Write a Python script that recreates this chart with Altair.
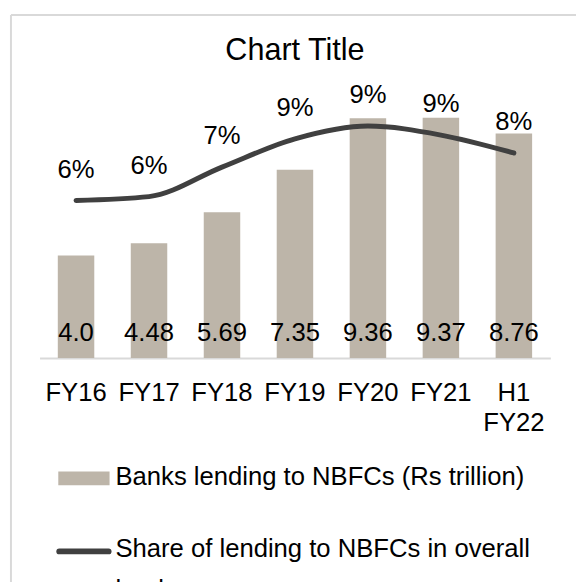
import altair as alt
import pandas as pd

categories = ["FY16", "FY17", "FY18", "FY19", "FY20", "FY21", "H1 FY22"]
bank_lending = [4.0, 4.48, 5.69, 7.35, 9.36, 9.37, 8.76]
bar_labels = ["4.0", "4.48", "5.69", "7.35", "9.36", "9.37", "8.76"]
share_pct = [6.15, 6.3, 7.45, 8.55, 9.05, 8.7, 8.0]

chart_title = "Chart Title"
bar_name = "Banks lending to NBFCs (Rs trillion)"
line_name_lines = ["Share of lending to NBFCs in overall", "bank exposure"]

df = pd.DataFrame({
    "cat": categories,
    "lending": bank_lending,
    "barlabel": bar_labels,
    "share": share_pct,
    "zero": [0] * len(categories),
})

FONT = "Liberation Sans"
BAR_COLOR = "#bdb5a9"
LINE_COLOR = "#404040"
BORDER = "#d9d9d9"

x = alt.X(
    "cat:N", sort=categories,
    scale=alt.Scale(paddingInner=0.5, paddingOuter=0.25),
    axis=alt.Axis(
        title=None, labelAngle=0, labelFontSize=26, labelFont=FONT,
        labelColor="#000000", ticks=False, domainColor=BORDER,
        domainWidth=2, labelPadding=22, grid=False,
        labelExpr="split(datum.value, ' ')", labelLineHeight=30,
    ),
)
yscale = alt.Scale(domain=[0, 10])

base = alt.Chart(df)

bars = base.mark_bar(color=BAR_COLOR).encode(
    x=x,
    y=alt.Y("lending:Q", scale=yscale, axis=None),
)

bar_text = base.mark_text(
    fontSize=26, font=FONT, color="#000000", baseline="middle", dy=-25
).encode(x=x, y=alt.Y("zero:Q", scale=yscale, axis=None), text="barlabel:N")

line = base.mark_line(
    interpolate="monotone", strokeWidth=5, strokeCap="round", strokeJoin="round",
    color=LINE_COLOR,
).encode(
    x=x,
    y=alt.Y("share:Q", scale=yscale, axis=None),
)

pct_text = base.transform_calculate(
    pct="format(datum.share, '.0f') + '%'"
).mark_text(
    fontSize=26, font=FONT, color="#000000", baseline="middle", dy=-31
).encode(x=x, y=alt.Y("share:Q", scale=yscale, axis=None), text="pct:N")

one = alt.Chart(pd.DataFrame({"k": [0]}))

# chart-area border (left and top edges visible)
border_left = one.mark_rule(color=BORDER, strokeWidth=2).encode(
    x=alt.value(-29), y=alt.value(-88), y2=alt.value(700)
)
border_top = one.mark_rule(color=BORDER, strokeWidth=2).encode(
    x=alt.value(-29), x2=alt.value(700), y=alt.value(-88)
)

# title
title_txt = one.mark_text(
    align="center", baseline="middle", fontSize=31, font=FONT, color="#000000"
).encode(x=alt.value(259), y=alt.value(-51), text=alt.value(chart_title))

# legend
leg_bar_sym = one.mark_rule(color=BAR_COLOR, strokeWidth=14, strokeCap="butt").encode(
    x=alt.value(19), x2=alt.value(71), y=alt.value(382)
)
leg_bar_txt = one.mark_text(
    align="left", baseline="alphabetic", fontSize=26, font=FONT, color="#000000"
).encode(x=alt.value(77), y=alt.value(389), text=alt.value(bar_name))
leg_line_sym = one.mark_rule(color=LINE_COLOR, strokeWidth=6, strokeCap="round").encode(
    x=alt.value(20), x2=alt.value(70), y=alt.value(456)
)
leg_line_txt1 = one.mark_text(
    align="left", baseline="alphabetic", fontSize=26, font=FONT, color="#000000"
).encode(x=alt.value(77), y=alt.value(462), text=alt.value(line_name_lines[0]))
leg_line_txt2 = one.mark_text(
    align="left", baseline="alphabetic", fontSize=26, font=FONT, color="#000000"
).encode(x=alt.value(77), y=alt.value(503), text=alt.value(line_name_lines[1]))

chart = alt.layer(
    border_left, border_top, title_txt, bars, bar_text, line, pct_text,
    leg_bar_sym, leg_bar_txt, leg_line_sym, leg_line_txt1, leg_line_txt2,
).properties(
    width=518, height=260,
    autosize=alt.AutoSizeParams(type="none"),
    padding={"left": 32, "top": 91, "right": 26, "bottom": 223},
).configure_view(stroke="transparent")

chart.save("out.html", embed_options={"renderer": "svg", "actions": False})
